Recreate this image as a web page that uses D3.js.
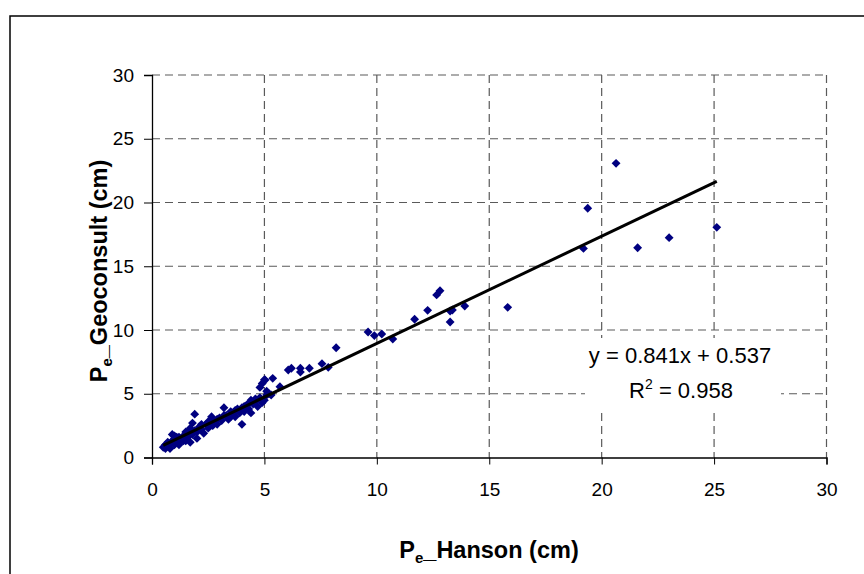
<!DOCTYPE html>
<html>
<head>
<meta charset="utf-8">
<script src="https://cdn.jsdelivr.net/npm/d3@7"></script>
<style>
  body { margin: 0; background: #fff; }
  svg { font-family: "Liberation Sans", Arial, sans-serif; }
</style>
</head>
<body>
<svg width="864" height="574"></svg>
<script>
// Pe_Hanson (x) vs Pe_Geoconsult (y)
var hanson = [0.5,0.6,0.7,0.8,0.8,0.9,0.9,1.0,1.0,1.1,1.2,1.3,1.4,1.5,1.5,1.6,1.7,1.7,1.8,1.8,
  1.9,1.9,2.0,2.0,2.1,2.2,2.3,2.4,2.5,2.6,2.65,2.7,2.8,2.9,3.0,3.1,3.2,3.3,3.4,3.5,
  3.6,3.7,3.8,3.9,4.0,4.0,4.1,4.2,4.3,4.4,4.5,4.6,4.7,4.8,4.8,4.9,5.0,5.0,5.03,5.1,
  5.2,5.37,5.69,6.06,6.2,6.6,6.6,7.0,7.56,7.84,8.19,9.61,9.89,10.22,10.71,11.68,12.26,12.66,12.81,13.26,
  13.26,13.36,13.91,15.82,19.19,19.38,20.64,21.6,23.0,25.12,
  0.6,0.7,1.0,1.2,1.4,1.6,2.2,2.5,2.9,3.2,3.5,3.7,4.1,4.3,4.4,4.6,4.9,5.1,5.3,1.1]
var geoconsult = [0.8,1.0,0.9,1.1,0.7,1.8,1.3,1.0,1.5,1.2,1.6,1.4,1.7,1.3,2.0,1.6,2.3,1.2,2.7,1.8,
  3.4,2.1,2.0,1.5,2.4,2.2,1.9,2.6,2.3,2.9,3.2,2.5,2.8,2.6,3.1,2.9,3.9,3.3,3.0,3.6,
  3.4,3.2,3.8,3.5,2.6,3.9,3.6,4.1,3.8,4.5,4.2,4.4,4.0,5.5,4.7,5.8,4.5,6.1,6.08,4.9,
  5.0,6.21,5.55,6.86,7.0,6.7,7.0,7.0,7.36,7.07,8.61,9.84,9.56,9.69,9.29,10.84,11.54,12.75,13.08,11.49,
  10.63,11.57,11.88,11.78,16.4,19.55,23.07,16.45,17.24,18.05,
  0.7,1.2,1.7,1.0,1.3,2.0,2.6,2.8,3.0,3.3,3.2,3.7,4.0,4.2,3.5,4.6,4.3,5.2,4.9,1.6]
var xTicks = [0,5,10,15,20,25,30]
var yTicks = [0,5,10,15,20,25,30]
var slope = 0.841, intercept = 0.537, r2 = 0.958
var fitRange = [0.5, 25.12]

var svg = d3.select("svg")
var plotL = 152, plotR = 826.5, plotT = 75, plotB = 457.5

var xScale = d3.scaleLinear().domain([0,30]).range([plotL,plotR])
var yScale = d3.scaleLinear().domain([0,30]).range([plotB,plotT])

// outer frame
svg.append("rect").attr("x",10).attr("y",16).attr("width",880).attr("height",600)
  .attr("fill","none").attr("stroke","#000").attr("stroke-width",1.5)

// dashed grid (incl. top and right edges)
var grid = svg.append("g")
grid.selectAll("line.v").data(xTicks.slice(1)).enter().append("line")
  .attr("x1", d => xScale(d)).attr("x2", d => xScale(d))
  .attr("y1", plotT).attr("y2", plotB)
  .attr("stroke","#5a5a5a").attr("stroke-width",1.2).attr("stroke-dasharray","8,5")
grid.selectAll("line.h").data(yTicks.slice(1)).enter().append("line")
  .attr("x1", plotL).attr("x2", plotR)
  .attr("y1", d => yScale(d)).attr("y2", d => yScale(d))
  .attr("stroke","#5a5a5a").attr("stroke-width",1.2).attr("stroke-dasharray","8,5")

var xAxis = d3.axisBottom(xScale).tickValues(xTicks).tickSize(7).tickPadding(18)
var gx = svg.append("g").attr("transform","translate(0,"+plotB+")").call(xAxis)
var yAxis = d3.axisLeft(yScale).tickValues(yTicks).tickSize(8).tickPadding(10)
var gy = svg.append("g").attr("transform","translate("+plotL+",0)").call(yAxis)
;[gx, gy].forEach(g => {
  g.select(".domain").attr("stroke","#000").attr("stroke-width",1.3)
  g.selectAll(".tick line").attr("stroke","#000")
  g.selectAll("text").attr("font-size",19).attr("fill","#000")
    .attr("font-family","Liberation Sans, Arial, sans-serif")
})

// points
svg.append("g").selectAll("path").data(hanson).enter().append("path")
  .attr("d", d3.symbol().type(d3.symbolDiamond2).size(50))
  .attr("transform", (d,i) => "translate("+xScale(d)+","+yScale(geoconsult[i])+")")
  .attr("fill","#000080")

// trend line
svg.append("line")
  .attr("x1", xScale(fitRange[0])).attr("y1", yScale(slope*fitRange[0]+intercept))
  .attr("x2", xScale(fitRange[1])).attr("y2", yScale(slope*fitRange[1]+intercept))
  .attr("stroke","#000").attr("stroke-width",3)

// equation label with white box
svg.append("rect").attr("x",585).attr("y",338).attr("width",196).attr("height",70).attr("fill","#fff")
svg.append("text").attr("x",680).attr("y",363).attr("text-anchor","middle")
  .attr("font-size",22).text("y = " + slope + "x + " + intercept)
var r = svg.append("text").attr("x",681).attr("y",398).attr("text-anchor","middle").attr("font-size",22)
r.append("tspan").text("R")
r.append("tspan").attr("dy",-9).attr("font-size",14).text("2")
r.append("tspan").attr("dy",9).text(" = " + r2)

// axis titles
var xt = svg.append("text").attr("x",489).attr("y",558).attr("text-anchor","middle")
  .attr("font-size",23.5).attr("font-weight","bold")
xt.append("tspan").text("P")
xt.append("tspan").attr("dy",5).attr("font-size",15).text("e")
xt.append("tspan").attr("dy",-5).text("_Hanson (cm)")

var yt = svg.append("text").attr("transform","translate(107,271) rotate(-90)").attr("text-anchor","middle")
  .attr("font-size",23.5).attr("font-weight","bold")
yt.append("tspan").text("P")
yt.append("tspan").attr("dy",5).attr("font-size",15).text("e")
yt.append("tspan").attr("dy",-5).text("_Geoconsult (cm)")
</script>
</body>
</html>
